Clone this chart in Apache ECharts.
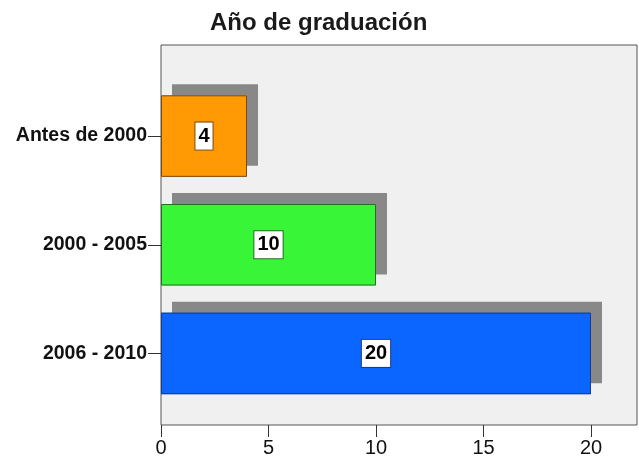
<!DOCTYPE html>
<html>
<head>
<meta charset="utf-8">
<script src="https://cdn.jsdelivr.net/npm/echarts@6/dist/echarts.min.js"></script>
<style>
  html, body { margin: 0; padding: 0; background: #fff; }
  #main { width: 639px; height: 459px; }
</style>
</head>
<body>
<div id="main"></div>
<script>
// datos del grafico
var titulo = 'Año de graduación';
var categorias = ['Antes de 2000', '2000 - 2005', '2006 - 2010'];
var valores = [4, 10, 20];
var marcasX = [0, 5, 10, 15, 20];

// colores de cada barra (relleno / borde)
var colores = ['#ff9a05', '#38f538', '#0a66ff'];
var bordes = ['#7a4a10', '#2a6a2a', '#1a3a8a'];

var fuente = 'Arial, "Liberation Sans", sans-serif';

var myChart = echarts.init(document.getElementById('main'));

var option = {
    backgroundColor: '#ffffff',
    animation: false,
    title: {
        text: titulo,
        left: 205,
        top: 6,
        textStyle: {
            fontFamily: fuente,
            fontSize: 24,
            fontWeight: 'bold',
            color: '#1a1a1a'
        }
    },
    grid: [{
        // marco gris del area de trazado
        left: 161,
        right: 2,
        top: 45,
        bottom: 34,
        show: true,
        backgroundColor: '#f0f0f0',
        borderColor: '#555555',
        borderWidth: 1
    }, {
        // zona de las barras
        left: 161,
        right: 5,
        top: 81.75,
        bottom: 51.25
    }],
    xAxis: [{
        type: 'value',
        gridIndex: 1,
        min: 0,
        max: 22,
        interval: 5,
        offset: 17.25,
        splitLine: { show: false },
        axisLine: { show: false },
        axisTick: {
            show: true,
            length: 12,
            customValues: marcasX,
            lineStyle: { color: '#333333' }
        },
        axisLabel: {
            customValues: marcasX,
            margin: 13,
            fontFamily: fuente,
            fontSize: 20,
            color: '#111111'
        }
    }, {
        type: 'value',
        gridIndex: 0,
        show: false
    }],
    yAxis: [{
        type: 'category',
        gridIndex: 1,
        inverse: true,
        data: categorias,
        axisLine: { show: false },
        axisTick: {
            show: true,
            alignWithLabel: true,
            length: 13,
            lineStyle: { color: '#333333' }
        },
        axisLabel: {
            margin: 14,
            fontFamily: fuente,
            fontSize: 19.5,
            fontWeight: 'bold',
            color: '#111111'
        }
    }, {
        type: 'value',
        gridIndex: 0,
        show: false
    }],
    series: [{
        // relleno con sombra gris desplazada
        type: 'bar',
        xAxisIndex: 0,
        yAxisIndex: 0,
        barWidth: '75%',
        barGap: '-100%',
        itemStyle: {
            borderWidth: 0,
            shadowColor: '#888888',
            shadowBlur: 0,
            shadowOffsetX: 11,
            shadowOffsetY: -11
        },
        data: valores.map(function (v, i) {
            return { value: v, itemStyle: { color: colores[i] } };
        })
    }, {
        // borde y etiqueta
        type: 'bar',
        xAxisIndex: 0,
        yAxisIndex: 0,
        barWidth: '75%',
        barGap: '-100%',
        z: 3,
        itemStyle: {
            color: 'rgba(0,0,0,0)',
            borderWidth: 1
        },
        label: {
            show: true,
            position: 'inside',
            fontFamily: fuente,
            fontSize: 20,
            fontWeight: 'bold',
            color: '#000000',
            backgroundColor: '#ffffff',
            borderWidth: 1,
            padding: [4, 3, 3, 3]
        },
        data: valores.map(function (v, i) {
            return {
                value: v,
                itemStyle: { borderColor: bordes[i] },
                label: { borderColor: bordes[i] }
            };
        })
    }]
};

myChart.setOption(option);
</script>
</body>
</html>
